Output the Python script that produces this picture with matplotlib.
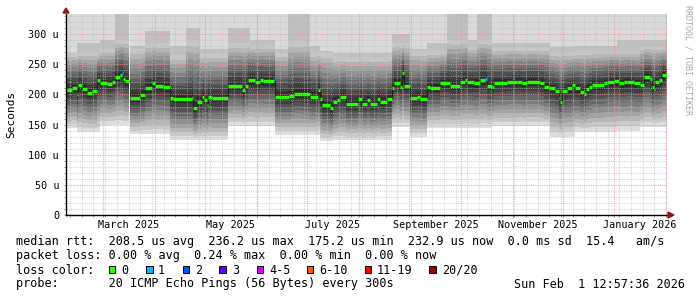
import numpy as np
import matplotlib.pyplot as plt
import matplotlib.dates as mdates
from matplotlib.patches import Rectangle, Polygon
from datetime import datetime, timedelta

nan = np.nan

end_time = datetime(2026, 2, 1, 12, 57, 36)
start_time = end_time - timedelta(days=360)
span_days = 360

# median rtt (us) as steps: day offset from start_time -> value
med_day = [0.0, 3.4, 6.4, 7.4, 9.4, 12.4, 15.4, 18.4, 20.4, 24.4,
           27.4, 29.4, 32.4, 33.4, 34.2, 35.4, 37.9, 38.5, 44.4, 47.4,
           51.4, 53.4, 58.3, 62.3, 64.3, 75.4, 76.3, 78.4, 81.4, 82.7,
           84.4, 85.3, 87.4, 97.1, 105.3, 107.3, 109.3, 113.3, 116.3, 118.3,
           124.3, 125.3, 133.3, 136.3, 141.3, 146.3, 150.7, 151.9, 153.3, 158.3,
           160.2, 162.3, 164.3, 167.9, 175.2, 177.3, 180.3, 182.3, 186.3, 188.2,
           192.3, 195.3, 196.6, 200.2, 201.2, 202.6, 205.8, 210.2, 212.2, 216.2,
           218.2, 224.2, 230.2, 236.2, 239.2, 240.2, 244.2, 248.2, 251.2, 252.2,
           255.2, 256.2, 264.2, 270.2, 273.2, 276.2, 284.2, 286.1, 289.1, 293.1,
           295.1, 296.1, 297.1, 300.1, 303.1, 305.1, 308.1, 310.1, 311.7, 313.1,
           315.1, 322.1, 324.1, 328.1, 331.1, 334.1, 336.1, 340.1, 344.1, 346.1,
           350.1, 351.1, 352.1, 353.1, 355.1, 357.1]
med_val = [207, 210, 200, 216, 209, 203, 206, 224, 219, 217,
           220, 229, 232, 235, 225, 222, nan, 194, 199, 210,
           219, 214, 212, 194, 192, 194, 177, 187, 196, 190,
           183, 196, 194, 214, 207, 214, 224, 220, 224, 222,
           226, 196, 197, 201, 200, 196, 207, 192, 182, 177,
           188, 190, 196, 185, 192, 185, 190, 185, 192, 188,
           192, 210, 219, 213, 235, 214, 194, 196, 192, 212,
           211, 219, 214, 221, 224, 220, 219, 224, 225, 214,
           212, 219, 220, 221, 219, 221, 219, 212, 210, 206,
           194, 188, 206, 210, 216, 210, 204, 200, 209, 212,
           216, 219, 221, 223, 219, 220, 221, 219, 216, 229,
           226, 212, 209, 220, 224, 232]
# steps where 1 of 20 pings was lost
loss_day = [33.4, 124.3, 251.2]

# smoke per stretch: min ping, top of the grey body, top of the grey haze above it
smoke_day = [0, 6.4, 20.4, 29.4, 38.5, 47.4, 62.3, 72.0, 80.0, 97.1,
             110.0, 125.3, 133.0, 146.0, 151.9, 160.0, 195.3, 205.8, 216.2, 228.0,
             241.0, 246.0, 255.0, 290.0, 305.0, 330.0, 344.0]
smoke_low = [144, 138, 149, 149, 134, 134, 124, 124, 124, 147,
             147, 133, 133, 133, 122, 124, 146, 130, 144, 144,
             144, 144, 147, 130, 138, 140, 146]
smoke_top = [268, 270, 275, 290, 275, 285, 265, 290, 268, 285,
             282, 270, 288, 270, 270, 262, 285, 272, 272, 290,
             280, 290, 278, 270, 272, 272, 280]
smoke_haze = [268, 285, 290, 340, 280, 305, 280, 310, 275, 310,
              290, 275, 340, 280, 272, 268, 300, 275, 285, 340,
              290, 340, 285, 278, 280, 290, 290]

y_labels = ["0", "50 u", "100 u", "150 u", "200 u", "250 u", "300 u"]
x_label_months = [(2025, 3), (2025, 5), (2025, 7), (2025, 9), (2025, 11), (2026, 1)]
x_labels = ["March 2025", "May 2025", "July 2025", "September 2025",
            "November 2025", "January 2026"]

loss_names = ["0", "1", "2", "3", "4-5", "6-10", "11-19", "20/20"]
loss_colors = ["#26ff00", "#00b8ff", "#0059ff", "#5e00ff", "#dd00ff",
               "#ff5500", "#ff0000", "#a00000"]

row1 = "median rtt:  208.5 us avg  236.2 us max  175.2 us min  232.9 us now  0.0 ms sd  15.4   am/s"
row2 = "packet loss: 0.00 % avg  0.24 % max  0.00 % min  0.00 % now"
row4 = "probe:       20 ICMP Echo Pings (56 Bytes) every 300s"
stamp = "Sun Feb  1 12:57:36 2026"

plt.rcParams['font.family'] = 'DejaVu Sans Mono'

W, H = 697, 297
fig = plt.figure(figsize=(W / 100, H / 100), dpi=100)
fig.patch.set_facecolor('white')


def fx(px):
    return px / W


def fy(py):
    return 1 - py / H


ax = fig.add_axes([fx(66), fy(215), 601 / W, 201 / H])
x0 = mdates.date2num(start_time)


def lookup(days, vals, t):
    idx = np.searchsorted(np.asarray(days), t, side='right') - 1
    return np.asarray(vals, float)[idx]


def steps(t, v):
    xs = np.empty(2 * len(t))
    ys = np.empty(2 * len(t))
    xs[0::2] = t
    xs[1::2] = np.append(t[1:], span_days)
    ys[0::2] = v
    ys[1::2] = v
    return x0 + xs, ys


def band(t, a, b, color):
    xa, ya = steps(t, a)
    _, yb = steps(t, b)
    ax.fill_between(xa, ya, yb, color=color, lw=0, zorder=1)


# smoke layers
t = np.unique(np.concatenate([med_day, smoke_day]))
m = lookup(med_day, med_val, t)
gap = np.isnan(m)
lo = np.where(gap, nan, lookup(smoke_day, smoke_low, t))
hi = np.where(gap, nan, lookup(smoke_day, smoke_top, t))
hz = np.where(gap, nan, lookup(smoke_day, smoke_haze, t))

n_layers = 10
g_low = np.linspace(0.87, 0.17, n_layers)   # grey level from bottom to median
g_up = np.linspace(0.17, 0.78, n_layers)    # grey level from median upwards
f = np.linspace(0, 1, n_layers + 1)

for i in range(n_layers):
    band(t, lo + f[i] * (m - lo), lo + f[i + 1] * (m - lo), str(g_low[i]))
    band(t, m + f[i] * (hi - m), m + f[i + 1] * (hi - m), str(g_up[i]))
band(t, hi, hz, '#c0c0c0')
band(t, hz, np.where(gap, nan, 345.0), '#dadada')

# grid
for v in range(0, 340, 10):
    if v % 50 == 0:
        ax.axhline(v, color='#ee9090', lw=0.8, ls=(0, (1, 1)), alpha=0.75, zorder=3)
    else:
        ax.axhline(v, color='#bdbdbd', lw=0.8, ls=(0, (1, 1)), alpha=0.6, zorder=3)

sundays = []
d = datetime(2025, 2, 9)
while d < end_time:
    sundays.append(mdates.date2num(d))
    d += timedelta(days=7)
month_starts = []
for yr, mo in [(2025, k) for k in range(3, 13)] + [(2026, 1), (2026, 2)]:
    month_starts.append(mdates.date2num(datetime(yr, mo, 1)))
for s in sundays:
    ax.axvline(s, color='#bdbdbd', lw=0.8, ls=(0, (1, 1)), alpha=0.6, zorder=3)
for s in month_starts:
    ax.axvline(s, color='#ee9090', lw=0.8, ls=(0, (1, 1)), alpha=0.75, zorder=3)

# median line + loss colored marks
mx, my = steps(np.asarray(med_day), np.asarray(med_val, float))
ax.plot(mx, my, color='#202020', lw=0.8, zorder=4)
md = np.asarray(med_day)
mv = np.asarray(med_val, float)
nxt = np.append(md[1:], span_days)
for a, b, v in zip(md, nxt, mv):
    if np.isnan(v):
        continue
    col = loss_colors[1] if a in loss_day else loss_colors[0]
    ax.plot([x0 + a, x0 + b], [v, v], color=col, lw=2.4,
            solid_capstyle='butt', zorder=5)

ax.set_xlim(x0, x0 + span_days)
ax.set_ylim(0, 333.5)
ax.set_facecolor('white')
for sp in ['top', 'right']:
    ax.spines[sp].set_visible(False)
ax.spines['left'].set_linewidth(1.0)
ax.spines['bottom'].set_linewidth(1.0)
ax.spines['left'].set_zorder(6)
ax.spines['bottom'].set_zorder(6)

ax.set_yticks(range(0, 301, 50))
ax.set_yticklabels(y_labels, fontsize=7.3)
ax.set_yticks(range(0, 331, 10), minor=True)
ax.tick_params(axis='y', which='both', length=1.5, width=0.7, color='#999999', pad=3.5)

xt = [mdates.date2num(datetime(yr, mo, 1) + timedelta(days=15)) for yr, mo in x_label_months]
ax.set_xticks(xt)
ax.set_xticklabels(x_labels, fontsize=7.3)
ax.set_xticks(sundays + month_starts, minor=True)
ax.tick_params(axis='x', which='major', length=0, pad=3.5)
ax.tick_params(axis='x', which='minor', length=1.5, width=0.7, color='#999999')

# axis arrows
fig.patches.append(Polygon([[fx(63), fy(13)], [fx(69), fy(13)], [fx(66), fy(8)]],
                           closed=True, color='#8b1a1a', transform=fig.transFigure))
fig.patches.append(Polygon([[fx(668), fy(212)], [fx(668), fy(218)], [fx(674), fy(215)]],
                           closed=True, color='#8b1a1a', transform=fig.transFigure))

fig.text(fx(11), fy(114), "Seconds", rotation=90, ha='center', va='center', fontsize=8)
fig.text(fx(688), fy(5), "RRDTOOL / TOBI OETIKER", rotation=270, ha='center', va='top',
         fontsize=6, color='#a8a8a8')

# legend rows
fs = 8.5
fig.text(fx(16), fy(245.5), row1, fontsize=fs, va='baseline', ha='left')
fig.text(fx(16), fy(259.5), row2, fontsize=fs, va='baseline', ha='left')
fig.text(fx(16), fy(273.5), "loss color:", fontsize=fs, va='baseline', ha='left')
fig.text(fx(16), fy(287.5), row4, fontsize=fs, va='baseline', ha='left')
fig.text(fx(514), fy(287.5), stamp, fontsize=fs, va='baseline', ha='left')

box_x = [108.5, 146, 182.7, 219.3, 256.7, 306.7, 365, 429.3]
lab_x = [121, 158, 195, 232, 269, 319, 377, 442]
for bx, lx, name, col in zip(box_x, lab_x, loss_names, loss_colors):
    fig.patches.append(Rectangle((fx(bx), fy(272.5)), 6.5 / W, 6.5 / H, facecolor=col,
                                 edgecolor='black', lw=0.7, transform=fig.transFigure))
    fig.text(fx(lx), fy(273.5), name, fontsize=fs, va='baseline', ha='left')

fig.savefig("out.png", dpi=100)
